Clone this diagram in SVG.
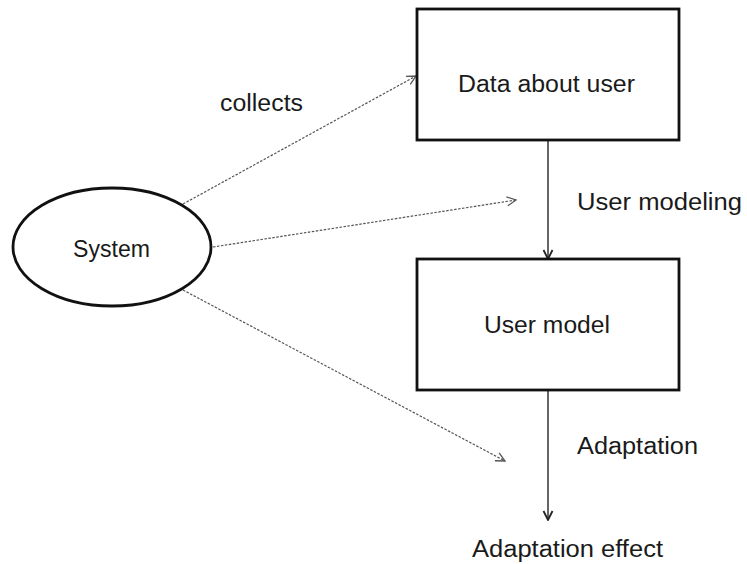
<svg xmlns="http://www.w3.org/2000/svg" width="747" height="564" viewBox="0 0 747 564">
<style>
.node{fill:#fff;stroke:#111;stroke-width:2.8}
.lbl{font-family:"Liberation Sans",Arial,sans-serif;font-size:23px;fill:#1a1a1a}
.dot{fill:none;stroke:#555;stroke-width:1.2;stroke-dasharray:2.5 1.5}
.sol{fill:none;stroke:#333;stroke-width:1.5}
</style>
<defs>
<marker id="ah" viewBox="0 0 12 12" refX="11" refY="6" markerWidth="12" markerHeight="12" markerUnits="userSpaceOnUse" orient="auto">
<path d="M2,1.5 L11,6 L2,10.5" fill="none" stroke="#555" stroke-width="1.3"/>
</marker>
<marker id="as" viewBox="0 0 12 12" refX="11" refY="6" markerWidth="12" markerHeight="12" markerUnits="userSpaceOnUse" orient="auto">
<path d="M2,1.5 L11,6 L2,10.5" fill="none" stroke="#222" stroke-width="1.8"/>
</marker>
</defs>
<g id="connectors">
<line class="dot" x1="183" y1="204" x2="416" y2="76" marker-end="url(#ah)"/>
<line class="dot" x1="213" y1="247" x2="516" y2="200" marker-end="url(#ah)"/>
<line class="dot" x1="183" y1="290" x2="505" y2="461" marker-end="url(#ah)"/>
<line class="sol" x1="548" y1="140" x2="548" y2="259" marker-end="url(#as)"/>
<line class="sol" x1="548" y1="390" x2="548" y2="520" marker-end="url(#as)"/>
<text class="lbl" x="220" y="111" textLength="83" lengthAdjust="spacingAndGlyphs">collects</text>
<text class="lbl" x="577" y="210" textLength="165" lengthAdjust="spacingAndGlyphs">User modeling</text>
<text class="lbl" x="577" y="454" textLength="121" lengthAdjust="spacingAndGlyphs">Adaptation</text>
</g>
<g id="system">
<ellipse class="node" cx="112" cy="247" rx="99" ry="59"/>
<text class="lbl" x="73" y="257" textLength="77" lengthAdjust="spacingAndGlyphs">System</text>
</g>
<g id="data">
<rect class="node" x="417" y="9" width="262" height="131"/>
<text class="lbl" x="458" y="92" textLength="177" lengthAdjust="spacingAndGlyphs">Data about user</text>
</g>
<g id="usermodel">
<rect class="node" x="417" y="259" width="262" height="131"/>
<text class="lbl" x="484" y="333" textLength="126" lengthAdjust="spacingAndGlyphs">User model</text>
</g>
<g id="effect">
<text class="lbl" x="472" y="557" textLength="191" lengthAdjust="spacingAndGlyphs">Adaptation effect</text>
</g>
</svg>
